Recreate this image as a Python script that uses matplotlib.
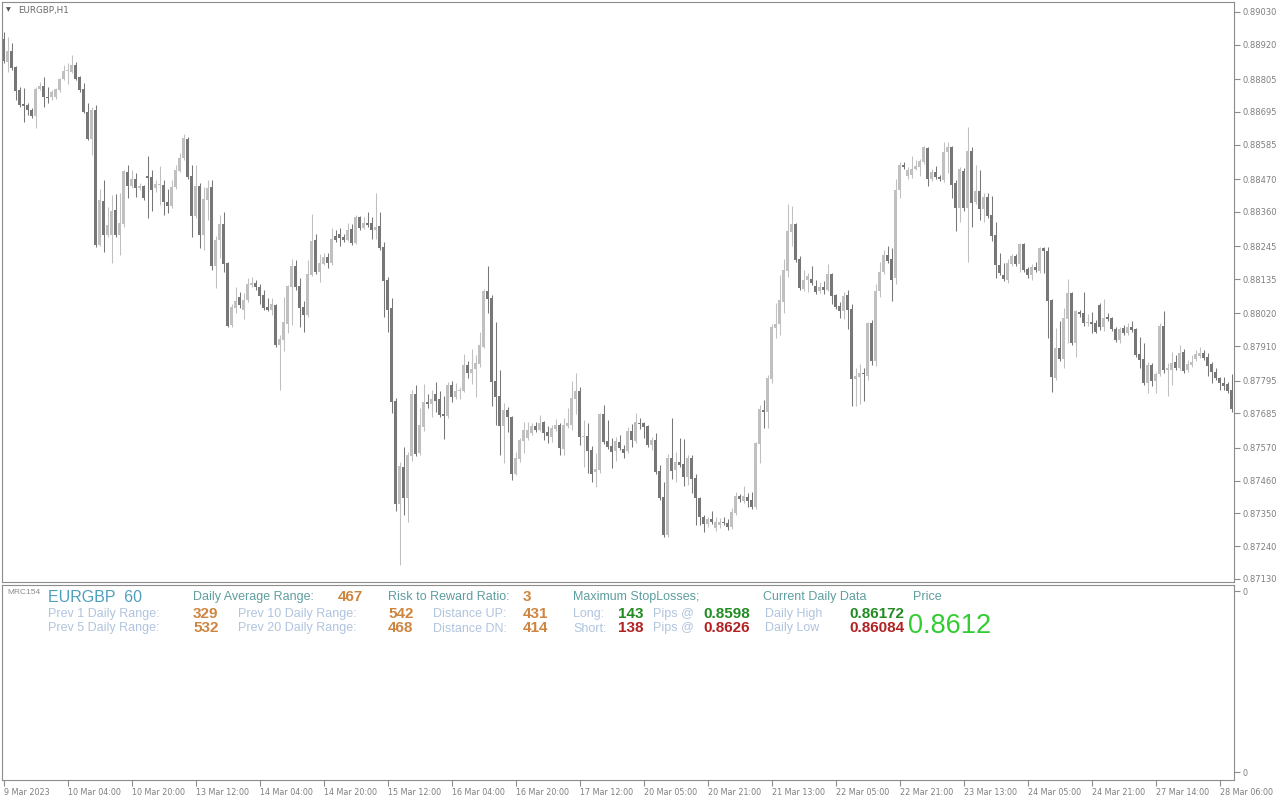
import numpy as np
import matplotlib
matplotlib.use("Agg")
import matplotlib.pyplot as plt

# EURGBP H1 candles, prices in points (1e-5)
opens = [
    88940, 88862, 88899, 88846, 88769, 88722, 88718, 88702, 88681, 88772,
    88782, 88745, 88745, 88745, 88769, 88805, 88832, 88829, 88852, 88812,
    88772, 88695, 88604, 88702, 88249, 88397, 88283, 88283, 88366, 88283,
    88320, 88494, 88447, 88470, 88440, 88447, 88480, 88477, 88440, 88450,
    88450, 88393, 88380, 88444, 88497, 88541, 88604, 88480, 88346, 88447,
    88283, 88400, 88444, 88179, 88266, 88320, 88189, 87981, 88038, 88075,
    88031, 88065, 88115, 88122, 88108, 88082, 88041, 88031, 88048, 87914,
    87931, 87985, 88108, 88179, 88112, 88041, 88015, 88149, 88266, 88159,
    88186, 88209, 88189, 88279, 88286, 88276, 88266, 88303, 88256, 88343,
    88306, 88323, 88323, 88300, 88313, 88242, 88132, 88038, 87726, 87381,
    87505, 87401, 87542, 87750, 87552, 87639, 87723, 87716, 87750, 87733,
    87683, 87676, 87780, 87740, 87760, 87760, 87847, 87820, 87834, 87850,
    87907, 88095, 88072, 87794, 87743, 87643, 87696, 87673, 87482, 87532,
    87592, 87603, 87619, 87643, 87629, 87656, 87623, 87606, 87633, 87646,
    87566, 87643, 87646, 87733, 87760, 87606, 87609, 87562, 87489, 87495,
    87683, 87592, 87576, 87559, 87589, 87566, 87559, 87626, 87592, 87653,
    87653, 87643, 87579, 87596, 87492, 87405, 87277, 87536, 87495, 87522,
    87515, 87472, 87536, 87469, 87401, 87338, 87314, 87331, 87301, 87311,
    87321, 87318, 87304, 87351, 87408, 87391, 87405, 87395, 87371, 87582,
    87696, 87690, 87800, 87971, 87985, 88058, 88162, 88293, 88320, 88202,
    88102, 88132, 88135, 88112, 88095, 88108, 88098, 88152, 88082, 88045,
    88028, 88082, 88035, 87800, 87807, 87817, 87810, 87988, 87860, 88095,
    88159, 88216, 88202, 88139, 88434, 88517, 88480, 88484, 88504, 88511,
    88527, 88574, 88470, 88494, 88477, 88467, 88561, 88578, 88457, 88373,
    88497, 88373, 88564, 88393, 88430, 88370, 88410, 88350, 88283, 88182,
    88149, 88132, 88186, 88212, 88186, 88253, 88169, 88149, 88176, 88162,
    88239, 88229, 88065, 87804, 87904, 87867, 88001, 88088, 87921, 88025,
    88021, 87988, 87991, 87988, 88048, 87974, 88008, 88005, 87968, 87931,
    87971, 87954, 87974, 87968, 87884, 87867, 87787, 87847, 87794, 87817,
    87978, 87830, 87830, 87857, 87837, 87891, 87830, 87847, 87867, 87877,
    87887, 87874, 87850, 87824, 87804, 87787, 87783, 87763,
]
highs = [
    88963, 88946, 88926, 88849, 88778, 88775, 88725, 88708, 88778, 88795,
    88812, 88778, 88769, 88775, 88809, 88852, 88859, 88886, 88862, 88815,
    88792, 88725, 88712, 88718, 88437, 88467, 88377, 88417, 88420, 88423,
    88500, 88517, 88500, 88490, 88457, 88450, 88547, 88500, 88467, 88514,
    88467, 88437, 88467, 88517, 88557, 88621, 88611, 88517, 88517, 88457,
    88444, 88467, 88467, 88279, 88350, 88360, 88192, 88052, 88108, 88092,
    88088, 88139, 88142, 88132, 88118, 88098, 88072, 88072, 88052, 87948,
    88075, 88115, 88202, 88199, 88139, 88062, 88199, 88353, 88286, 88219,
    88222, 88222, 88306, 88300, 88306, 88286, 88323, 88320, 88350, 88346,
    88343, 88360, 88343, 88423, 88360, 88259, 88142, 88072, 87737, 87522,
    87572, 87556, 87763, 87780, 87703, 87783, 87750, 87763, 87790, 87760,
    87743, 87790, 87794, 87787, 87773, 87884, 87860, 87901, 87881, 87958,
    88102, 88179, 88082, 87991, 87830, 87720, 87706, 87676, 87556, 87603,
    87656, 87656, 87653, 87656, 87680, 87659, 87643, 87646, 87666, 87653,
    87670, 87703, 87794, 87820, 87773, 87663, 87653, 87576, 87552, 87686,
    87713, 87663, 87603, 87606, 87613, 87579, 87639, 87649, 87686, 87670,
    87656, 87646, 87606, 87619, 87512, 87455, 87549, 87670, 87556, 87603,
    87599, 87546, 87546, 87482, 87405, 87345, 87338, 87358, 87338, 87334,
    87338, 87331, 87368, 87422, 87415, 87442, 87418, 87422, 87589, 87713,
    87730, 87814, 87985, 88055, 88149, 88202, 88387, 88380, 88323, 88212,
    88165, 88155, 88179, 88132, 88125, 88129, 88186, 88155, 88085, 88058,
    88092, 88098, 88052, 87837, 87850, 87837, 87991, 87998, 88118, 88192,
    88232, 88246, 88239, 88470, 88527, 88527, 88511, 88547, 88534, 88537,
    88580, 88578, 88504, 88514, 88484, 88594, 88594, 88580, 88467, 88511,
    88507, 88645, 88578, 88517, 88500, 88423, 88423, 88413, 88326, 88222,
    88189, 88202, 88219, 88219, 88256, 88256, 88176, 88186, 88192, 88242,
    88242, 88242, 88068, 87971, 87995, 88038, 88135, 88092, 88031, 88031,
    88092, 88018, 88025, 87998, 88055, 88068, 88021, 88008, 87974, 87974,
    87981, 87988, 87995, 87971, 87941, 87921, 87857, 87854, 87824, 87988,
    88028, 87854, 87891, 87881, 87914, 87901, 87864, 87881, 87897, 87907,
    87897, 87887, 87857, 87837, 87807, 87807, 87790, 87817,
]
lows = [
    88859, 88829, 88836, 88735, 88712, 88661, 88685, 88675, 88641, 88769,
    88712, 88725, 88735, 88738, 88762, 88802, 88789, 88826, 88802, 88762,
    88692, 88601, 88551, 88242, 88246, 88226, 88276, 88189, 88276, 88216,
    88309, 88407, 88440, 88410, 88434, 88400, 88340, 88363, 88427, 88383,
    88350, 88356, 88373, 88437, 88494, 88534, 88470, 88276, 88340, 88239,
    88232, 88333, 88165, 88105, 88206, 88159, 87974, 87974, 88021, 88038,
    88001, 88058, 88108, 88098, 88052, 88031, 88028, 88015, 87907, 87763,
    87894, 87954, 87981, 88098, 87974, 87958, 88008, 88145, 88152, 88125,
    88182, 88172, 88182, 88259, 88246, 88259, 88263, 88249, 88253, 88300,
    88303, 88309, 88269, 88269, 88232, 88008, 87958, 87686, 87358, 87177,
    87344, 87321, 87525, 87542, 87546, 87626, 87703, 87673, 87690, 87673,
    87599, 87669, 87723, 87733, 87733, 87757, 87804, 87783, 87740, 87840,
    87904, 88021, 87710, 87646, 87546, 87519, 87623, 87462, 87479, 87522,
    87552, 87596, 87613, 87623, 87626, 87596, 87586, 87589, 87626, 87546,
    87546, 87636, 87629, 87683, 87579, 87505, 87485, 87455, 87438, 87485,
    87582, 87566, 87502, 87525, 87562, 87536, 87552, 87572, 87586, 87633,
    87603, 87572, 87562, 87482, 87395, 87271, 87271, 87465, 87455, 87505,
    87442, 87445, 87418, 87311, 87311, 87288, 87304, 87314, 87291, 87301,
    87311, 87294, 87298, 87345, 87388, 87385, 87371, 87365, 87365, 87519,
    87636, 87636, 87787, 87938, 87948, 88021, 88142, 88246, 88192, 88098,
    88095, 88092, 88115, 88085, 88088, 88085, 88095, 88052, 88035, 88005,
    88001, 87968, 87710, 87710, 87716, 87726, 87797, 87847, 87844, 88075,
    88152, 88189, 88062, 88118, 88407, 88504, 88470, 88474, 88500, 88480,
    88521, 88447, 88464, 88470, 88464, 88460, 88490, 88407, 88296, 88326,
    88363, 88192, 88309, 88387, 88333, 88326, 88340, 88263, 88139, 88149,
    88129, 88122, 88179, 88179, 88159, 88159, 88139, 88132, 88159, 88155,
    88155, 87938, 87757, 87797, 87860, 87837, 87921, 87914, 87874, 88008,
    87978, 87978, 87954, 87954, 87964, 87961, 87994, 87961, 87924, 87921,
    87948, 87948, 87958, 87874, 87837, 87780, 87753, 87777, 87753, 87810,
    87820, 87743, 87780, 87830, 87830, 87820, 87824, 87840, 87860, 87871,
    87864, 87810, 87787, 87797, 87763, 87763, 87753, 87690,
]
closes = [
    88866, 88899, 88842, 88765, 88718, 88715, 88702, 88681, 88772, 88782,
    88745, 88742, 88762, 88772, 88805, 88832, 88836, 88852, 88805, 88769,
    88695, 88604, 88702, 88249, 88400, 88283, 88316, 88363, 88283, 88323,
    88497, 88447, 88470, 88440, 88447, 88407, 88474, 88434, 88454, 88451,
    88393, 88380, 88444, 88500, 88541, 88608, 88477, 88346, 88447, 88283,
    88403, 88440, 88179, 88266, 88320, 88186, 87978, 88041, 88062, 88048,
    88065, 88118, 88122, 88108, 88078, 88038, 88031, 88052, 87914, 87934,
    87991, 88112, 88179, 88108, 88038, 88015, 88152, 88263, 88159, 88189,
    88209, 88189, 88269, 88266, 88273, 88266, 88300, 88256, 88343, 88306,
    88323, 88316, 88300, 88309, 88239, 88129, 88031, 87723, 87381, 87509,
    87401, 87546, 87750, 87549, 87646, 87723, 87716, 87733, 87726, 87680,
    87676, 87780, 87740, 87760, 87763, 87847, 87820, 87834, 87854, 87914,
    88095, 88068, 87790, 87740, 87643, 87696, 87673, 87482, 87536, 87596,
    87629, 87629, 87643, 87629, 87653, 87619, 87609, 87636, 87646, 87569,
    87646, 87653, 87737, 87760, 87606, 87609, 87559, 87482, 87499, 87683,
    87589, 87572, 87556, 87592, 87569, 87552, 87626, 87596, 87656, 87649,
    87639, 87579, 87596, 87489, 87401, 87277, 87536, 87492, 87522, 87512,
    87472, 87536, 87465, 87401, 87338, 87314, 87331, 87321, 87321, 87321,
    87318, 87304, 87355, 87408, 87398, 87408, 87391, 87371, 87586, 87700,
    87690, 87804, 87974, 87985, 88065, 88165, 88296, 88320, 88199, 88105,
    88132, 88145, 88122, 88092, 88108, 88098, 88152, 88078, 88041, 88028,
    88078, 88031, 87800, 87810, 87820, 87816, 87988, 87860, 88095, 88159,
    88216, 88196, 88132, 88434, 88517, 88511, 88500, 88504, 88514, 88531,
    88578, 88470, 88494, 88477, 88470, 88561, 88578, 88450, 88373, 88504,
    88373, 88564, 88390, 88430, 88370, 88410, 88346, 88279, 88182, 88155,
    88135, 88189, 88212, 88186, 88253, 88165, 88149, 88176, 88165, 88239,
    88229, 88062, 87807, 87904, 87867, 88005, 88088, 87921, 88028, 88018,
    87988, 87991, 87985, 87958, 87974, 88005, 88001, 87968, 87931, 87968,
    87954, 87974, 87964, 87881, 87864, 87787, 87847, 87794, 87817, 87978,
    87830, 87837, 87854, 87837, 87887, 87827, 87850, 87857, 87884, 87887,
    87871, 87844, 87824, 87804, 87787, 87777, 87760, 87700,
]

price_ticks = [0.89030, 0.88920, 0.88805, 0.88695, 0.88585, 0.88470, 0.88360,
               0.88245, 0.88135, 0.88020, 0.87910, 0.87795, 0.87685, 0.87570,
               0.87460, 0.87350, 0.87240, 0.87130]
time_labels = ["9 Mar 2023", "10 Mar 04:00", "10 Mar 20:00", "13 Mar 12:00",
               "14 Mar 04:00", "14 Mar 20:00", "15 Mar 12:00", "16 Mar 04:00",
               "16 Mar 20:00", "17 Mar 12:00", "20 Mar 05:00", "20 Mar 21:00",
               "21 Mar 13:00", "22 Mar 05:00", "22 Mar 21:00", "23 Mar 13:00",
               "24 Mar 05:00", "24 Mar 21:00", "27 Mar 14:00", "28 Mar 06:00"]
time_label_bar = list(range(0, 305, 16))

# indicator panel values
symbol, period = "EURGBP", 60
daily_avg_range = 467
prev_ranges = {"1": 329, "5": 532, "10": 542, "20": 468}
risk_reward = 3
dist_up, dist_dn = 431, 414
sl_long_pips, sl_long_price = 143, "0.8598"
sl_short_pips, sl_short_price = 138, "0.8626"
day_high, day_low = "0.86172", "0.86084"
last_price = "0.8612"

assert len(opens) == len(highs) == len(lows) == len(closes)

o = np.array(opens) / 1e5
h = np.array(highs) / 1e5
l = np.array(lows) / 1e5
c = np.array(closes) / 1e5
x = np.arange(len(o))
colors = np.where(c >= o, "#c0c0c0", "#777777")

frame = "#8c8c8c"
label_col = "#7f7f7f"

fig = plt.figure(figsize=(12.8, 8), dpi=100)
fig.patch.set_facecolor("white")

ax = fig.add_axes([2 / 1280, 218 / 800, 1232 / 1280, 580 / 800])
ax.vlines(x, l, h, colors=colors, linewidth=0.75)
body = np.maximum(np.abs(c - o), 0.00003)
ax.bar(x, body, bottom=np.minimum(o, c), width=0.75, color=colors, linewidth=0)
ax.set_xlim(-0.375, len(o) - 0.375)
ax.set_ylim(0.871199, 0.890635)
ax.yaxis.tick_right()
ax.set_yticks(price_ticks)
ax.set_yticklabels([f"{v:.5f}" for v in price_ticks])
ax.set_xticks([])
ax.tick_params(axis="y", direction="out", length=4, width=0.8, color=frame,
               labelsize=6, labelcolor=label_col, pad=2)
for s in ax.spines.values():
    s.set_color(frame)
    s.set_linewidth(0.8)

fig.text(8 / 1280, 1 - 10 / 800, "▼", fontsize=4.5, color="#555555",
         ha="center", va="center")
fig.text(18 / 1280, 1 - 10 / 800, "EURGBP,H1", fontsize=6.3, color="#6a6a6a",
         va="center")

ax2 = fig.add_axes([2 / 1280, 20 / 800, 1232 / 1280, 195 / 800])
ax2.set_xlim(-0.375, len(o) - 0.375)
ax2.set_ylim(0, 1)
ax2.yaxis.tick_right()
ax2.set_yticks([0.041, 0.969])
ax2.set_yticklabels(["0", "0"])
ax2.set_xticks(time_label_bar)
ax2.set_xticklabels(time_labels, ha="left")
ax2.tick_params(direction="out", length=4, width=0.8, color=frame,
                labelsize=5.8, labelcolor=label_col, pad=2)
ax2.tick_params(axis="x", pad=1.5)
for s in ax2.spines.values():
    s.set_color(frame)
    s.set_linewidth(0.8)

cadet = "#5f9ea0"
steel = "#b0c4de"
peru = "#cd853f"
green = "#228b22"
red = "#b22222"
lime = "#32cd32"
font = "Liberation Sans"


def put(px, py, s, color, size=9, weight="normal"):
    fig.text(px / 1280, 1 - py / 800, s, color=color, fontsize=size,
             fontweight=weight, family=font, ha="left", va="center")


r1, r2, r3 = 597, 614, 628.5
put(7, 593, "MRC154", "#8a8a8a", 6)
put(48, r1, f"{symbol}  {period}", "#4e9fbf", 11.5)
put(193, r1, "Daily Average Range:", cadet)
put(338, r1, str(daily_avg_range), peru, 11, "bold")
put(388, r1, "Risk to Reward Ratio:", cadet)
put(523, r1, str(risk_reward), peru, 11, "bold")
put(573, r1, "Maximum StopLosses;", cadet)
put(763, r1, "Current Daily Data", cadet)
put(913, r1, "Price", cadet)

put(48, r2, "Prev 1 Daily Range:", steel)
put(193, r2, str(prev_ranges["1"]), peru, 11, "bold")
put(238, r2, "Prev 10 Daily Range:", steel)
put(388, r2, str(prev_ranges["10"]), peru, 11, "bold")
put(433, r2, "Distance UP:", steel)
put(523, r2, str(dist_up), peru, 11, "bold")
put(573, r2, "Long:", steel)
put(618, r2, str(sl_long_pips), green, 11, "bold")
put(653, r2, "Pips @", steel)
put(703, r2, sl_long_price, green, 11, "bold")
put(765, r2, "Daily High", steel)
put(849, r2, day_high, green, 11, "bold")

put(48, r3, "Prev 5 Daily Range:", steel)
put(193, r3, str(prev_ranges["5"]), peru, 11, "bold")
put(238, r3, "Prev 20 Daily Range:", steel)
put(388, r3, str(prev_ranges["20"]), peru, 11, "bold")
put(433, r3, "Distance DN:", steel)
put(523, r3, str(dist_dn), peru, 11, "bold")
put(573, r3, "Short:", steel)
put(618, r3, str(sl_short_pips), red, 11, "bold")
put(653, r3, "Pips @", steel)
put(703, r3, sl_short_price, red, 11, "bold")
put(765, r3, "Daily Low", steel)
put(849, r3, day_low, red, 11, "bold")

put(908, 626, last_price, lime, 19.5)

fig.savefig("out.png", dpi=100, facecolor="white")
